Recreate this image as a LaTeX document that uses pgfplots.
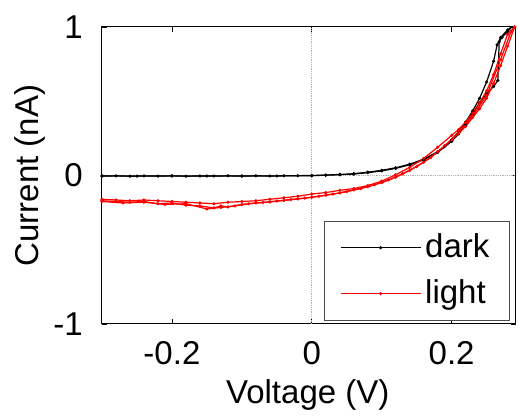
\documentclass[border=0pt]{standalone}
\usepackage{pgfplots}
\pgfplotsset{compat=1.18}
\usepackage{fontspec}
\setmainfont{Liberation Sans}
\begin{document}
\begin{tikzpicture}
\fontsize{33}{38}\selectfont
\begin{axis}[name=ax,
  scale only axis, width=414pt, height=297pt,
  xmin=-0.3, xmax=0.292, ymin=-1, ymax=1,
  xtick={-0.2,0,0.2}, xticklabels={-0.2,0,0.2},
  ytick={-1,0,1}, yticklabels={-1,0,1},
  tick align=inside, major tick length=5pt,
  tick style={black, line width=0.8pt},
  axis line style={black, line width=1pt},
  font=\fontsize{33}{38}\selectfont,
  tick label style={font=\fontsize{33}{38}\selectfont},
  xticklabel style={yshift=-6pt},
  yticklabel style={xshift=-8pt},
  xlabel={Voltage (V)}, ylabel={Current (nA)},
  x label style={at={(axis description cs:0.497,-0.24)},anchor=center},
  y label style={at={(axis description cs:-0.174,0.5)},anchor=center},
  legend style={at={(0.985,0.012)}, anchor=south east, draw=black!70, line width=0.8pt,
    font=\fontsize{33}{38}\selectfont, inner xsep=16pt, inner ysep=10pt, row sep=13pt,
    nodes={inner xsep=4pt}},
  legend cell align=left,
  legend image code/.code={\draw[mark repeat=2,mark phase=2] plot coordinates {(0pt,0pt)(40pt,0pt)(80pt,0pt)};},
]
\addplot[gray!60, densely dotted, line width=0.8pt, forget plot] coordinates {(0,-1) (0,1)};
\addplot[gray!60, densely dotted, line width=0.8pt, forget plot] coordinates {(-0.3,0) (0.3,0)};
% dark
\addplot[black, line width=1.2pt, mark=*, mark size=0.9pt] coordinates {
(-0.30,-0.004) (-0.28,-0.002) (-0.26,-0.005) (-0.24,-0.003) (-0.22,-0.004) (-0.20,-0.002)
(-0.18,-0.005) (-0.16,-0.003) (-0.14,-0.004) (-0.12,-0.002) (-0.10,-0.004) (-0.08,-0.002)
(-0.06,-0.003) (-0.04,-0.002) (-0.02,-0.001) (0.00,0.000) (0.02,0.003) (0.04,0.007)
(0.06,0.012) (0.08,0.022) (0.10,0.035) (0.12,0.052) (0.14,0.076) (0.16,0.11)
(0.18,0.16) (0.19,0.195) (0.20,0.24) (0.21,0.295) (0.22,0.36) (0.23,0.435)
(0.24,0.52) (0.25,0.63) (0.26,0.77) (0.265,0.88) (0.27,0.93) (0.28,0.98) (0.29,1.02)
};
\addplot[black, line width=1.2pt, mark=*, mark size=0.9pt, forget plot] coordinates {
(0.29,1.02) (0.28,0.97) (0.272,0.93) (0.268,0.90) (0.266,0.64) (0.26,0.60)
(0.25,0.55) (0.24,0.49) (0.23,0.41) (0.22,0.34) (0.21,0.28) (0.20,0.23)
(0.18,0.155) (0.16,0.105) (0.14,0.072) (0.12,0.048) (0.10,0.031) (0.08,0.019)
(0.06,0.010) (0.04,0.005) (0.02,0.002) (0.00,-0.001) (-0.05,-0.003) (-0.10,-0.004)
(-0.15,-0.004) (-0.20,-0.003) (-0.25,-0.004) (-0.30,-0.003)
};
% light
\addplot[red, line width=1.2pt, mark=*, mark size=0.9pt] coordinates {
(-0.30,-0.17) (-0.28,-0.175) (-0.26,-0.18) (-0.24,-0.175) (-0.22,-0.19) (-0.20,-0.185)
(-0.18,-0.20) (-0.16,-0.205) (-0.14,-0.218) (-0.13,-0.205) (-0.12,-0.212) (-0.10,-0.195)
(-0.08,-0.185) (-0.06,-0.178) (-0.04,-0.168) (-0.02,-0.158) (0.00,-0.147) (0.02,-0.133)
(0.04,-0.118) (0.06,-0.097) (0.08,-0.075) (0.10,-0.048) (0.12,-0.012) (0.14,0.035)
(0.16,0.09) (0.18,0.16) (0.20,0.24) (0.21,0.285) (0.22,0.33) (0.23,0.39)
(0.24,0.45) (0.25,0.52) (0.26,0.62) (0.27,0.74) (0.28,0.87) (0.29,1.0)
};
\addplot[red, line width=1.2pt, mark=*, mark size=0.9pt, forget plot] coordinates {
(0.29,1.0) (0.28,0.95) (0.27,0.82) (0.26,0.68) (0.25,0.57) (0.24,0.49)
(0.23,0.42) (0.22,0.36) (0.21,0.31) (0.20,0.27) (0.18,0.19) (0.16,0.115)
(0.14,0.055) (0.12,0.005) (0.10,-0.038) (0.08,-0.068) (0.06,-0.088) (0.04,-0.10)
(0.02,-0.115) (0.00,-0.125) (-0.02,-0.14) (-0.04,-0.15) (-0.06,-0.16) (-0.08,-0.17)
(-0.10,-0.175) (-0.12,-0.18) (-0.14,-0.19) (-0.16,-0.185) (-0.18,-0.18) (-0.20,-0.175)
(-0.22,-0.17) (-0.24,-0.165) (-0.26,-0.17) (-0.28,-0.165) (-0.30,-0.16)
};
\addplot[red, line width=1.2pt, mark=*, mark size=0.9pt, forget plot] coordinates {
(-0.30,-0.175) (-0.27,-0.185) (-0.24,-0.18) (-0.21,-0.195) (-0.18,-0.19) (-0.15,-0.225)
(-0.13,-0.215) (-0.11,-0.205) (-0.09,-0.19) (-0.07,-0.182) (-0.05,-0.172) (-0.03,-0.162)
(-0.01,-0.152) (0.01,-0.14) (0.03,-0.125) (0.05,-0.108) (0.07,-0.088) (0.09,-0.062)
(0.11,-0.03) (0.13,0.012) (0.15,0.06) (0.17,0.12) (0.19,0.20) (0.21,0.29)
(0.23,0.40) (0.25,0.54) (0.27,0.78) (0.285,0.97) (0.29,1.0)
};
\legend{dark,light}
\end{axis}
\pgfresetboundingbox
\path[use as bounding box] ([shift={(-102pt,-93pt)}]ax.south west) rectangle ([shift={(2pt,27pt)}]ax.north east);
\end{tikzpicture}
\end{document}
